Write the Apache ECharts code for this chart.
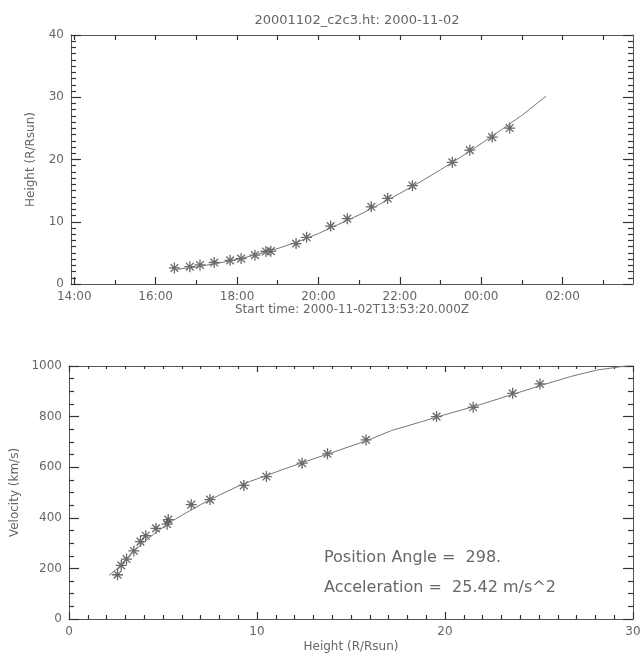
<!DOCTYPE html>
<html>
<head>
<meta charset="utf-8">
<script src="https://cdn.jsdelivr.net/npm/echarts@6/dist/echarts.min.js"></script>
<style>
html, body { margin: 0; padding: 0; background: #fff; }
#chart { width: 640px; height: 658px; }
</style>
</head>
<body>
<div id="chart"></div>
<script>
// measured points (time in hours of 2000-11-02, >24 = next day)
var obsTimes = [16.46, 16.84, 17.09, 17.44, 17.83, 18.10, 18.44, 18.71, 18.83, 19.45,
                19.71, 20.30, 20.71, 21.30, 21.70, 22.31, 23.29, 23.72, 24.27, 24.70];
var obsHeights = [2.58, 2.78, 3.06, 3.45, 3.80, 4.08, 4.63, 5.22, 5.28, 6.50,
                  7.50, 9.30, 10.50, 12.40, 13.75, 15.80, 19.55, 21.50, 23.60, 25.05];
var obsVelocity = [175, 212, 237, 269, 306, 329, 358, 375, 393, 452,
                   472, 528, 563, 616, 653, 708, 800, 837, 892, 929];

// fitted height-time curve
var fitTimes = [16.45, 17.0, 17.5, 18.0, 18.5, 19.0, 19.5, 20.0, 20.5, 21.0,
                21.5, 22.0, 22.5, 23.0, 23.5, 24.0, 24.5, 25.0, 25.6];
var fitHeights = [2.3, 2.75, 3.3, 3.95, 4.75, 5.7, 6.8, 8.1, 9.6, 11.1,
                  12.8, 14.55, 16.4, 18.35, 20.4, 22.55, 24.8, 27.1, 30.2];

// fitted velocity-height curve
var fitH = [2.13, 2.5, 3.0, 3.5, 4.0, 4.5, 5.0, 5.5, 6.0, 7.0, 8.0, 9.0, 9.6, 10.5,
            11.3, 12.5, 14.0, 15.88, 17.16, 18.76, 19.64, 21.55, 23.69, 25.19, 26.66, 28.08, 30.0];
var fitV = [172, 195, 232, 272, 305, 335, 362, 388, 410, 452, 490, 525, 543, 567,
            589, 620, 658, 706, 745, 780, 800, 840, 890, 925, 958, 984, 1004];

var hourLabels = [14, 16, 18, 20, 22, 24, 26];
var hourMinor = [15, 17, 19, 21, 23, 25, 27];
var hourAll = [14, 15, 16, 17, 18, 19, 20, 21, 22, 23, 24, 25, 26, 27];
var tMin = 13.92, tMax = 27.73;

var ink = '#555';
var tickInk = '#333';
var txt = '#666';
var font = 'DejaVu Sans';
var star = 'path://M0,5L10,5M5,0L5,10M1.5,1.5L8.5,8.5M1.5,8.5L8.5,1.5';

function zip(a, b) {
    var out = [];
    for (var i = 0; i < a.length; i++) out.push([a[i], b[i]]);
    return out;
}
function hh(v) {
    var h = Math.round(v) % 24;
    return (h < 10 ? '0' : '') + h + ':00';
}
function ticks(len, extra) {
    var t = { show: true, inside: true, length: len, lineStyle: { color: tickInk, width: 1.2 } };
    for (var k in extra) t[k] = extra[k];
    return t;
}
function frameAxis(extra) {
    var base = {
        type: 'value',
        axisLine: { show: true, onZero: false, lineStyle: { color: ink, width: 1 } },
        axisTick: ticks(10),
        minorTick: ticks(5),
        axisLabel: { show: false },
        splitLine: { show: false },
        minorSplitLine: { show: false },
        nameTextStyle: { color: txt, fontFamily: font, fontSize: 12 }
    };
    for (var k in extra) base[k] = extra[k];
    return base;
}
var lbl = { show: true, color: txt, fontFamily: font, fontSize: 12, margin: 7,
            formatter: function (v) { return String(v); } };

var myChart = echarts.init(document.getElementById('chart'));
myChart.setOption({
    animation: false,
    backgroundColor: '#fff',
    title: [{
        text: '20001102_c2c3.ht: 2000-11-02',
        left: 352, top: 9, textAlign: 'center',
        textStyle: { color: txt, fontFamily: font, fontSize: 13, fontWeight: 'normal' }
    }],
    grid: [
        { left: 71, right: 7, top: 35, bottom: 374, outerBoundsMode: 'none' },
        { left: 69, right: 7, top: 366, bottom: 39, outerBoundsMode: 'none' }
    ],
    xAxis: [
        frameAxis({
            gridIndex: 0, position: 'bottom', min: tMin, max: tMax,
            axisTick: ticks(7, { customValues: hourLabels }),
            minorTick: { show: false },
            axisLabel: { show: true, color: txt, fontFamily: font, fontSize: 12, margin: 7,
                         customValues: hourLabels, formatter: hh },
            name: 'Start time: 2000-11-02T13:53:20.000Z', nameLocation: 'middle', nameGap: 19
        }),
        frameAxis({
            gridIndex: 0, position: 'bottom', min: tMin, max: tMax,
            axisLine: { show: false, onZero: false },
            axisTick: ticks(4, { customValues: hourMinor }),
            minorTick: { show: false }
        }),
        frameAxis({
            gridIndex: 0, position: 'top', min: tMin, max: tMax,
            axisTick: ticks(5, { customValues: hourAll }),
            minorTick: { show: false }
        }),
        frameAxis({
            gridIndex: 1, position: 'bottom', min: 0, max: 30, interval: 10,
            axisTick: ticks(7),
            minorTick: ticks(4, { splitNumber: 10 }),
            axisLabel: lbl,
            name: 'Height (R/Rsun)', nameLocation: 'middle', nameGap: 22
        }),
        frameAxis({
            gridIndex: 1, position: 'top', min: 0, max: 30, interval: 10,
            axisTick: ticks(6),
            minorTick: ticks(3, { splitNumber: 10 })
        })
    ],
    yAxis: [
        frameAxis({
            gridIndex: 0, position: 'left', min: 0, max: 40, interval: 10,
            minorTick: ticks(5, { splitNumber: 10 }),
            axisLabel: lbl,
            name: 'Height (R/Rsun)', nameLocation: 'middle', nameGap: 34
        }),
        frameAxis({
            gridIndex: 0, position: 'right', min: 0, max: 40, interval: 10,
            minorTick: ticks(5, { splitNumber: 10 })
        }),
        frameAxis({
            gridIndex: 1, position: 'left', min: 0, max: 1000, interval: 200,
            minorTick: ticks(5, { splitNumber: 4 }),
            axisLabel: lbl,
            name: 'Velocity (km/s)', nameLocation: 'middle', nameGap: 34
        }),
        frameAxis({
            gridIndex: 1, position: 'right', min: 0, max: 1000, interval: 200,
            minorTick: ticks(5, { splitNumber: 4 })
        })
    ],
    graphic: [
        { type: 'text', left: 324, top: 550,
          style: { text: 'Position Angle =  298.', fill: txt, font: '16px "DejaVu Sans"' } },
        { type: 'text', left: 324, top: 580,
          style: { text: 'Acceleration =  25.42 m/s^2', fill: txt, font: '16px "DejaVu Sans"' } }
    ],
    series: [
        {
            type: 'line', xAxisIndex: 0, yAxisIndex: 0, data: zip(fitTimes, fitHeights),
            showSymbol: false, lineStyle: { color: '#777', width: 1 }
        },
        {
            type: 'scatter', xAxisIndex: 0, yAxisIndex: 0, data: zip(obsTimes, obsHeights),
            symbol: star, symbolSize: 11,
            itemStyle: { color: 'rgba(0,0,0,0)', borderColor: '#444', borderWidth: 1.3 }
        },
        {
            type: 'line', xAxisIndex: 3, yAxisIndex: 2, data: zip(fitH, fitV),
            showSymbol: false, clip: true, lineStyle: { color: '#777', width: 1 }
        },
        {
            type: 'scatter', xAxisIndex: 3, yAxisIndex: 2, data: zip(obsHeights, obsVelocity),
            symbol: star, symbolSize: 11,
            itemStyle: { color: 'rgba(0,0,0,0)', borderColor: '#444', borderWidth: 1.3 }
        }
    ]
});
</script>
</body>
</html>
